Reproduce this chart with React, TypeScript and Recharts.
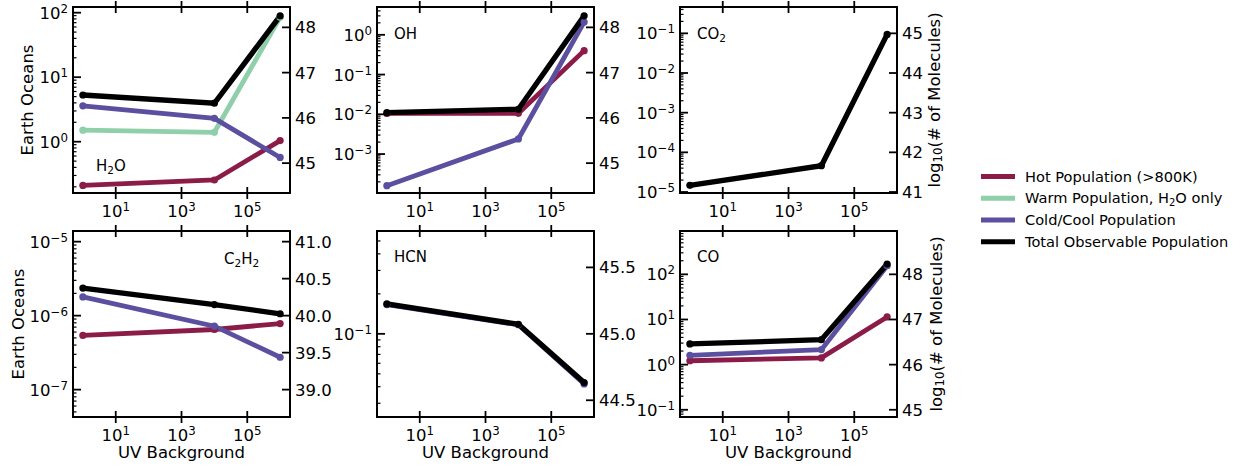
import React from 'react';
import { LineChart, Line, XAxis, YAxis } from 'recharts';

// UV background values (x) shared by every panel
const UV = [1, 1e4, 1e6];

// Earth Oceans
const h2oHot = [0.21, 0.255, 1.04];
const h2oWarm = [1.51, 1.4, 85];
const h2oCold = [3.6, 2.3, 0.57];
const h2oTotal = [5.3, 3.95, 89];

const ohHot = [0.0105, 0.0106, 0.4];
const ohCold = [1.6e-4, 2.4e-3, 2.1];
const ohTotal = [0.011, 0.0134, 3.0];

const co2Total = [1.47e-5, 4.6e-5, 0.094];

const c2h2Hot = [5.4e-7, 6.5e-7, 7.8e-7];
const c2h2Cold = [1.79e-6, 7.2e-7, 2.74e-7];
const c2h2Total = [2.36e-6, 1.41e-6, 1.06e-6];

const hcnCold = [0.166, 0.117, 0.042];
const hcnTotal = [0.168, 0.118, 0.043];

const coHot = [1.22, 1.41, 11.4];
const coCold = [1.61, 2.15, 155];
const coTotal = [2.87, 3.57, 169];

const X_TICKS = [10, 1e3, 1e5];
const RIGHT_TICKS_HI = [45, 46, 47, 48];
const RIGHT_TICKS_CO2 = [41, 42, 43, 44, 45];
const RIGHT_TICKS_C2H2 = [39, 39.5, 40, 40.5, 41];
const RIGHT_TICKS_HCN = [44.5, 45, 45.5];

const HOT = '#8b1c47';
const WARM = '#8fcfa9';
const COLD = '#5b4fa0';
const TOTAL = '#000000';
const FONT = '"DejaVu Sans", sans-serif';

const PW = 217;
const PH = 186;
const LW = 80;
const RW = 70;
const TH = 10;
const BH = 40;
const FS = 16.5;

const powLabel = (e: number) => (
  <>
    <tspan>10</tspan>
    <tspan dy={-6} fontSize={11.8}>{e < 0 ? '\u2212' + -e : String(e)}</tspan>
  </>
);

const BottomTick = (p: any) => {
  const { x, y, payload } = p;
  const e = Math.round(Math.log10(payload.value));
  return (
    <g>
      <line x1={x} x2={x} y1={y - 6} y2={y + 6} stroke="#000" strokeWidth={1.8} />
      <text x={x} y={y + 24} textAnchor="middle" fontSize={FS} fontFamily={FONT} fill="#000">
        {powLabel(e)}
      </text>
    </g>
  );
};

const TopTick = (p: any) => {
  const { x, y } = p;
  return <line x1={x} x2={x} y1={y - 6} y2={y + 6} stroke="#000" strokeWidth={1.8} />;
};

const LeftTick = (p: any) => {
  const { x, y, payload } = p;
  const lg = Math.log10(payload.value);
  const major = Math.abs(lg - Math.round(lg)) < 1e-6;
  return (
    <g>
      <line x1={x} x2={x + (major ? 8 : 3.5)} y1={y} y2={y} stroke="#000" strokeWidth={major ? 1.8 : 1.2} />
      {major && (
        <text x={x - 5} y={y + 6} textAnchor="end" fontSize={FS} fontFamily={FONT} fill="#000">
          {powLabel(Math.round(lg))}
        </text>
      )}
    </g>
  );
};

const makeRightTick = (decimals: number) => (p: any) => {
  const { x, y, payload } = p;
  return (
    <g>
      <line x1={x - 8} x2={x} y1={y} y2={y} stroke="#000" strokeWidth={1.8} />
      <text x={x + 5} y={y + 6} textAnchor="start" fontSize={FS} fontFamily={FONT} fill="#000">
        {payload.value.toFixed(decimals)}
      </text>
    </g>
  );
};

function logTicks(lo: number, hi: number) {
  const out: number[] = [];
  for (let n = Math.floor(lo) - 1; n <= Math.ceil(hi); n++) {
    for (let k = 1; k <= 9; k++) {
      const v = k * Math.pow(10, n);
      const l = Math.log10(v);
      if (l >= lo && l <= hi) out.push(v);
    }
  }
  return out;
}

type Series = { key: string; color: string; width: number; values: number[] };

type PanelProps = {
  left: number;
  top: number;
  yExp: [number, number];
  rDomain: [number, number];
  rTicks: number[];
  rDecimals: number;
  series: Series[];
};

const axisLine = { stroke: '#000', strokeWidth: 2, strokeLinecap: 'square' as const };

function Panel({ left, top, yExp, rDomain, rTicks, rDecimals, series }: PanelProps) {
  const data = UV.map((u, i) => {
    const row: Record<string, number> = { uv: u };
    series.forEach((s) => (row[s.key] = s.values[i]));
    return row;
  });
  const yDomain = [Math.pow(10, yExp[0]), Math.pow(10, yExp[1])];
  const xDomain = [Math.pow(10, -0.3), Math.pow(10, 6.3)];
  return (
    <div style={{ position: 'absolute', left: left - LW, top: top - TH }}>
      <LineChart width={LW + PW + RW} height={TH + PH + BH} data={data} margin={{ top: 0, right: 0, bottom: 0, left: 0 }}>
        <XAxis xAxisId="b" dataKey="uv" type="number" scale="log" domain={xDomain} allowDataOverflow
          ticks={X_TICKS} interval={0} tickSize={0} tickMargin={0} height={BH} axisLine={axisLine} tick={BottomTick} />
        <XAxis xAxisId="t" orientation="top" dataKey="uv" type="number" scale="log" domain={xDomain} allowDataOverflow
          ticks={X_TICKS} interval={0} tickSize={0} tickMargin={0} height={TH} axisLine={axisLine} tick={TopTick} />
        <YAxis yAxisId="l" type="number" scale="log" domain={yDomain} allowDataOverflow
          ticks={logTicks(yExp[0], yExp[1])} interval={0} tickSize={0} tickMargin={0} width={LW} axisLine={axisLine} tick={LeftTick} />
        <YAxis yAxisId="r" orientation="right" type="number" domain={rDomain} allowDataOverflow
          ticks={rTicks} interval={0} tickSize={0} tickMargin={0} width={RW} axisLine={axisLine} tick={makeRightTick(rDecimals)} />
        {series.map((s) => (
          <Line key={s.key} xAxisId="b" yAxisId="l" dataKey={s.key} stroke={s.color} strokeWidth={s.width}
            dot={{ r: 3.6, fill: s.color, stroke: s.color, strokeWidth: 0 }} activeDot={false} isAnimationActive={false} />
        ))}
      </LineChart>
    </div>
  );
}

const hot = (v: number[]): Series => ({ key: 'hot', color: HOT, width: 4.8, values: v });
const warm = (v: number[]): Series => ({ key: 'warm', color: WARM, width: 4.8, values: v });
const cold = (v: number[]): Series => ({ key: 'cold', color: COLD, width: 4.8, values: v });
const total = (v: number[]): Series => ({ key: 'total', color: TOTAL, width: 5.3, values: v });

const txt = { fontFamily: FONT, fill: '#000' };

export default function App() {
  return (
    <div style={{ position: 'absolute', left: 0, top: 0, width: 1243, height: 470, background: '#fff' }}>
      <Panel left={73} top={7} yExp={[-0.795, 2.088]} rDomain={[44.34, 48.45]} rTicks={RIGHT_TICKS_HI} rDecimals={0}
        series={[hot(h2oHot), warm(h2oWarm), cold(h2oCold), total(h2oTotal)]} />
      <Panel left={377} top={7} yExp={[-3.98, 0.7]} rDomain={[44.34, 48.45]} rTicks={RIGHT_TICKS_HI} rDecimals={0}
        series={[hot(ohHot), cold(ohCold), total(ohTotal)]} />
      <Panel left={680} top={7} yExp={[-5.025, -0.336]} rDomain={[40.975, 45.664]} rTicks={RIGHT_TICKS_CO2} rDecimals={0}
        series={[total(co2Total)]} />
      <Panel left={73} top={231} yExp={[-7.37, -4.856]} rDomain={[38.63, 41.144]} rTicks={RIGHT_TICKS_C2H2} rDecimals={1}
        series={[hot(c2h2Hot), cold(c2h2Cold), total(c2h2Total)]} />
      <Panel left={377} top={231} yExp={[-1.626, -0.226]} rDomain={[44.374, 45.774]} rTicks={RIGHT_TICKS_HCN} rDecimals={1}
        series={[cold(hcnCold), total(hcnTotal)]} />
      <Panel left={680} top={231} yExp={[-1.16, 2.96]} rDomain={[44.84, 48.96]} rTicks={RIGHT_TICKS_HI} rDecimals={0}
        series={[hot(coHot), cold(coCold), total(coTotal)]} />

      <svg width={1243} height={470} style={{ position: 'absolute', left: 0, top: 0, pointerEvents: 'none' }}>
        <g {...txt} fontSize={FS}>
          <text transform="translate(27,100) rotate(-90)" textAnchor="middle" dominantBaseline="central">Earth Oceans</text>
          <text transform="translate(18.5,324) rotate(-90)" textAnchor="middle" dominantBaseline="central">Earth Oceans</text>
          <text x={181.5} y={458} textAnchor="middle">UV Background</text>
          <text x={485.5} y={458} textAnchor="middle">UV Background</text>
          <text x={788.5} y={458} textAnchor="middle">UV Background</text>
          <text transform="translate(934,100) rotate(-90)" textAnchor="middle" dominantBaseline="central">
            log<tspan dy={4} fontSize={11.8}>10</tspan><tspan dy={-4}>(# of Molecules)</tspan>
          </text>
          <text transform="translate(936,324) rotate(-90)" textAnchor="middle" dominantBaseline="central">
            log<tspan dy={4} fontSize={11.8}>10</tspan><tspan dy={-4}>(# of Molecules)</tspan>
          </text>
        </g>
        <g {...txt} fontSize={15}>
          <text x={96} y={171}>H<tspan dy={3} fontSize={10.5}>2</tspan><tspan dy={-3}>O</tspan></text>
          <text x={394} y={39}>OH</text>
          <text x={697} y={39}>CO<tspan dy={3} fontSize={10.5}>2</tspan></text>
          <text x={224} y={264}>C<tspan dy={3} fontSize={10.5}>2</tspan><tspan dy={-3}>H</tspan><tspan dy={3} fontSize={10.5}>2</tspan></text>
          <text x={394} y={261.5}>HCN</text>
          <text x={697} y={261.5}>CO</text>
        </g>
        <g {...txt} fontSize={14.6}>
          <line x1={981} x2={1015} y1={176.5} y2={176.5} stroke={HOT} strokeWidth={5} />
          <text x={1025} y={181.5}>Hot Population (&gt;800K)</text>
          <line x1={981} x2={1015} y1={198.3} y2={198.3} stroke={WARM} strokeWidth={5} />
          <text x={1025} y={203.3}>Warm Population, H<tspan dy={3} fontSize={10}>2</tspan><tspan dy={-3}>O only</tspan></text>
          <line x1={981} x2={1015} y1={220} y2={220} stroke={COLD} strokeWidth={5} />
          <text x={1025} y={225}>Cold/Cool Population</text>
          <line x1={981} x2={1015} y1={241.7} y2={241.7} stroke={TOTAL} strokeWidth={5} />
          <text x={1025} y={246.7}>Total Observable Population</text>
        </g>
      </svg>
    </div>
  );
}
